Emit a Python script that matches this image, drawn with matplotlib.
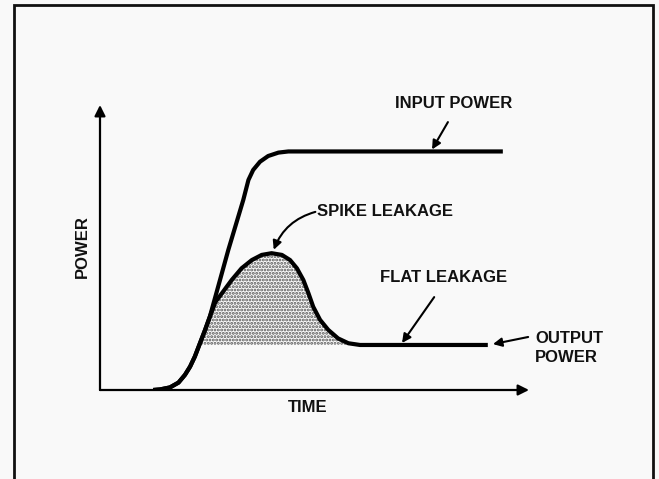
import matplotlib.pyplot as plt
from matplotlib.patches import Rectangle

# schematic curves (time, power) in arbitrary units
foot_t = [1.24, 1.40, 1.63, 1.83, 1.98, 2.10, 2.21, 2.33, 2.45, 2.56]
foot_p = [0.00, 0.02, 0.09, 0.26, 0.53, 0.82, 1.17, 1.64, 2.11, 2.57]

input_t = [2.99, 3.34, 3.46, 3.57, 3.73, 3.92, 4.16, 4.39, 4.78, 9.39]
input_p = [4.91, 6.67, 7.37, 7.72, 8.01, 8.21, 8.33, 8.37, 8.37, 8.37]

output_t = [2.69, 2.84, 3.07, 3.30, 3.54, 3.77, 4.00, 4.24, 4.43, 4.59, 4.74, 4.86,
            4.97, 5.13, 5.32, 5.55, 5.79, 6.06, 9.04]
output_p = [3.09, 3.39, 3.86, 4.27, 4.56, 4.74, 4.80, 4.74, 4.56, 4.27, 3.86, 3.39,
            2.92, 2.46, 2.11, 1.81, 1.64, 1.58, 1.58]
flat_level = 1.58

plt.rcParams['font.family'] = ['Liberation Sans', 'DejaVu Sans']
plt.rcParams['hatch.linewidth'] = 1.4
plt.rcParams['hatch.color'] = '#555555'

fig = plt.figure(figsize=(6.59, 4.79), dpi=100, facecolor='#f9f9f9')
fig.patches.append(Rectangle((14 / 659, -0.05), (653 - 14) / 659, 1 - 5 / 479 + 0.05,
                             transform=fig.transFigure, fill=False, lw=2, ec='#111111'))

ax = fig.add_axes([100 / 659, (479 - 390) / 479, (529 - 100) / 659, (390 - 105) / 479])
ax.set_xlim(0, 10)
ax.set_ylim(0, 10)
ax.axis('off')

# axes with arrows
arr = dict(arrowstyle='-|>', lw=1.6, color='black', mutation_scale=16, shrinkA=0, shrinkB=0)
ax.annotate('', xy=(10, 0), xytext=(0, 0), arrowprops=arr, annotation_clip=False)
ax.annotate('', xy=(0, 10), xytext=(0, 0), arrowprops=arr, annotation_clip=False)

# stippled spike area: foot from the flat level, then the output hump
fill_t = [t for t, p in zip(foot_t, foot_p) if p >= flat_level] + output_t[:-2]
fill_p = [p for p in foot_p if p >= flat_level] + output_p[:-2]
ax.fill_between(fill_t, fill_p, flat_level, facecolor='#f9f9f9', hatch='.....',
                edgecolor='#555555', lw=0)

lw = 3.0
ax.plot(foot_t + input_t, foot_p + input_p, color='black', lw=lw,
        solid_capstyle='butt', solid_joinstyle='round')
ax.plot(foot_t + output_t, foot_p + output_p, color='black', lw=lw,
        solid_capstyle='butt', solid_joinstyle='round')

fs = 12
tk = dict(fontsize=fs, fontweight='bold', color='#111111')
pointer = dict(arrowstyle='-|>', lw=1.5, color='black', mutation_scale=13, shrinkA=0, shrinkB=0)

ax.text(8.25, 10.07, 'INPUT POWER', ha='center', va='center', **tk)
ax.annotate('', xy=(7.74, 8.44), xytext=(8.11, 9.40), arrowprops=pointer)

ax.text(5.06, 6.25, 'SPIKE LEAKAGE', ha='left', va='center', **tk)
ax.annotate('', xy=(4.05, 4.92), xytext=(5.02, 6.25),
            arrowprops=dict(pointer, connectionstyle='arc3,rad=0.25'))

ax.text(8.0, 3.93, 'FLAT LEAKAGE', ha='center', va='center', **tk)
ax.annotate('', xy=(7.04, 1.65), xytext=(7.79, 3.26), arrowprops=pointer)

ax.text(10.14, 1.47, 'OUTPUT\nPOWER', ha='left', va='center', linespacing=1.35, **tk)
ax.annotate('', xy=(9.16, 1.61), xytext=(9.98, 1.86), arrowprops=pointer,
            annotation_clip=False)

ax.text(4.85, -0.63, 'TIME', ha='center', va='center', **tk)
ax.text(-0.40, 5.02, 'POWER', ha='center', va='center', rotation=90, **tk)

fig.savefig('out.png', dpi=100, facecolor=fig.get_facecolor())
